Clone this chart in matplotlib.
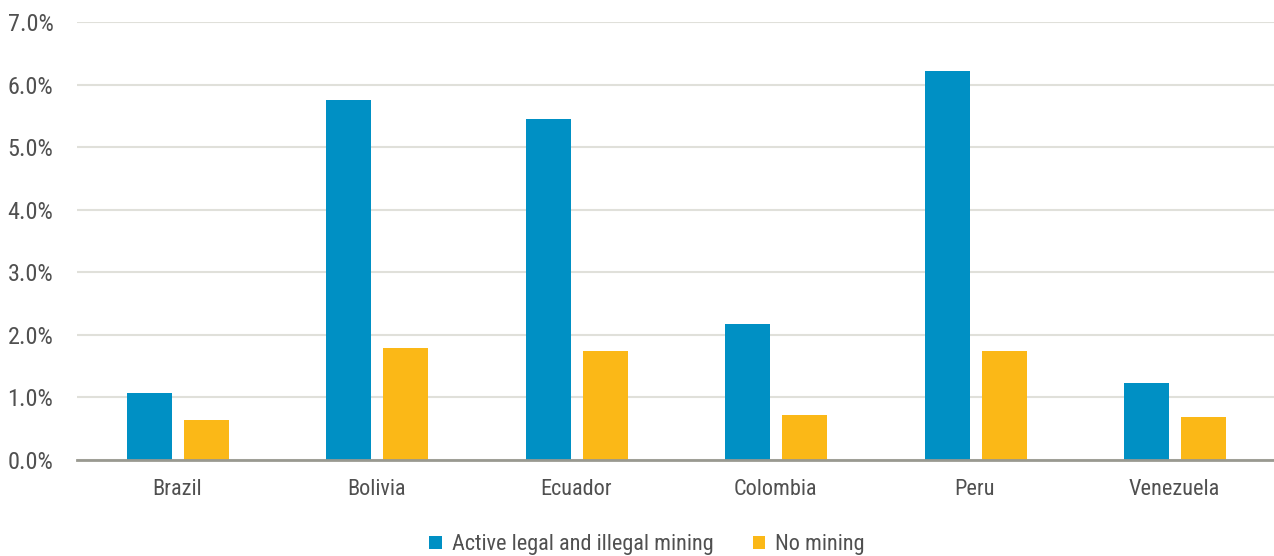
import matplotlib
matplotlib.use("Agg")
import matplotlib.pyplot as plt
import numpy as np
from matplotlib.ticker import FuncFormatter

countries = ["Brazil", "Bolivia", "Ecuador", "Colombia", "Peru", "Venezuela"]
active_mining = [1.07, 5.75, 5.45, 2.17, 6.22, 1.23]
no_mining = [0.64, 1.79, 1.74, 0.72, 1.74, 0.69]
series_names = ["Active legal and illegal mining", "No mining"]

plt.rcParams["font.family"] = ["Roboto Condensed", "DejaVu Sans"]
text_color = "#505050"

fig = plt.figure(figsize=(12.74, 5.56), dpi=100)
ax = fig.add_axes([77 / 1274, 1 - 460 / 556, 1 - 77 / 1274, (460 - 22) / 556])

x = np.arange(len(countries))
w = 0.225
ax.bar(x - 0.137, active_mining, w, color="#0090C4", label=series_names[0], zorder=3)
ax.bar(x + 0.147, no_mining, w, color="#FBB817", label=series_names[1], zorder=3)

ax.set_xlim(-0.5, len(countries) - 0.5)
ax.set_ylim(0, 7)
ax.set_yticks(np.arange(0, 8, 1))
ax.yaxis.set_major_formatter(FuncFormatter(lambda v, p: f"{v:.1f}%"))
ax.set_xticks(x)
ax.set_xticklabels(countries)
ax.grid(axis="y", color="#E0E0DA", linewidth=1.5, zorder=0)
for s in ["top", "right", "left"]:
    ax.spines[s].set_visible(False)
ax.spines["bottom"].set_color("#999990")
ax.spines["bottom"].set_linewidth(2)
ax.spines["bottom"].set_zorder(4)
ax.tick_params(axis="both", length=0, labelcolor=text_color)
ax.tick_params(axis="x", pad=14, labelsize=16)
ax.tick_params(axis="y", pad=17, labelsize=17.5)

leg = fig.legend(loc="lower center", bbox_to_anchor=(0.508, -0.035), ncol=2, frameon=False,
                 fontsize=16, handlelength=0.55, handleheight=0.55, columnspacing=1.8,
                 handletextpad=0.45)
for t in leg.get_texts():
    t.set_color(text_color)

fig.savefig("out.png", dpi=100)
